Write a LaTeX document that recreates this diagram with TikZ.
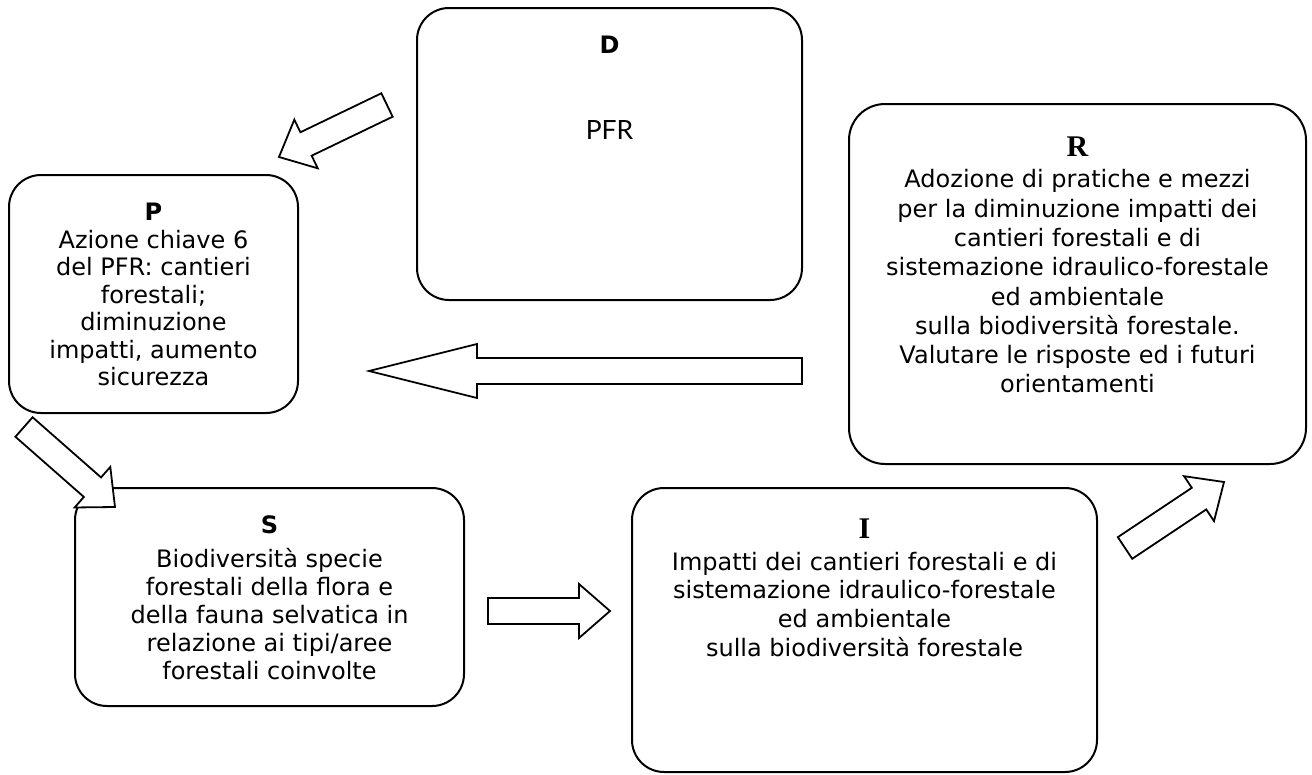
\documentclass[tikz,border=0pt]{standalone}
\usepackage{fontspec}
\setmainfont{DejaVu Sans}
\newfontfamily\titleserif{Liberation Serif}
\newfontfamily\pfrfont{Lato}
\usetikzlibrary{positioning,calc}

\newcommand{\bodysize}[1]{\fontsize{24}{#1}\selectfont}
\newcommand{\sectitle}[1]{{\titleserif\bfseries\fontsize{30}{28}\selectfont #1}}

% hollow block arrow from #1 (tail) to #2 (tip), #3 = head length
\newcommand{\blockarrow}[3]{%
  \coordinate (hb) at ($(#2)!#3!(#1)$);
  \draw[arrowbody]
    ($(#1)!13pt!90:(#2)$) -- ($(hb)!13pt!-90:(#1)$) -- ($(hb)!27pt!-90:(#1)$)
    -- (#2) -- ($(hb)!27pt!90:(#1)$) -- ($(hb)!13pt!90:(#1)$)
    -- ($(#1)!13pt!-90:(#2)$) -- cycle;}

\begin{document}
\begin{tikzpicture}[x=1pt, y=-1pt,
    box/.style={draw, line width=2pt, rounded corners=32pt, inner sep=0pt},
    boxtext/.style={align=center, inner sep=0pt},
    arrowbody/.style={draw, line width=1.8pt, fill=white}
  ]
  \useasboundingbox (0,0) rectangle (1312,774);

  % the five boxes
  \node[box, minimum width=385pt, minimum height=292pt] (D) at (609.5,154) {};
  \node[box, minimum width=289pt, minimum height=238pt] (P) at (153.5,294) {};
  \node[box, minimum width=457pt, minimum height=360pt, rounded corners=36pt] (R) at (1077.5,284) {};
  \node[box, minimum width=389pt, minimum height=218pt] (S) at (269.5,597) {};
  \node[box, minimum width=465pt, minimum height=284pt] (I) at (864.5,630) {};

  % texts
  \node[boxtext, font=\bodysize{28}, below=29pt of D.north] (Dtext) {\textbf{D}\\[58pt]{\pfrfont\fontsize{26.5}{28}\selectfont PFR}};
  \node[boxtext, font=\bodysize{27.5}, below=29pt of P.north] (Ptext) {\textbf{P}\\ Azione chiave 6\\
    del PFR: cantieri\\ forestali;\\ diminuzione\\ impatti, aumento\\ sicurezza};
  \node[boxtext, font=\bodysize{29.3}, below=34pt of R.north] (Rtext) {\sectitle{R}\\[1.7pt]
    Adozione di pratiche e mezzi\\ per la diminuzione impatti dei\\ cantieri forestali e di\\
    sistemazione idraulico-forestale\\ ed ambientale\\ sulla biodiversità forestale.\\
    Valutare le risposte ed i futuri\\ orientamenti};
  \node[boxtext, font=\bodysize{28}, below=28pt of S.north] (Stext) {\textbf{S}\\[6pt] Biodiversità specie\\
    forestali della flora e\\ della fauna selvatica in\\ relazione ai tipi/aree\\ forestali coinvolte};
  \node[boxtext, font=\bodysize{28.7}, below=32pt of I.north] (Itext) {\sectitle{I}\\[2.7pt]
    Impatti dei cantieri forestali e di\\ sistemazione idraulico-forestale\\ ed ambientale\\
    sulla biodiversità forestale};

  % arrow ends
  \coordinate (DPa) at (387,105);  \coordinate (DPb) at (279,157);
  \coordinate (PSa) at (24,427);   \coordinate (PSb) at (115,507);
  \coordinate (RPa) at (802,371);  \coordinate (RPb) at (369,371);
  \coordinate (SIa) at (488,611);  \coordinate (SIb) at (610,611);
  \coordinate (IRa) at (1125,548); \coordinate (IRb) at (1224,482);

  \blockarrow{DPa}{DPb}{30pt}
  \blockarrow{PSa}{PSb}{30pt}
  \blockarrow{RPa}{RPb}{108pt}
  \blockarrow{SIa}{SIb}{31pt}
  \blockarrow{IRa}{IRb}{30pt}
\end{tikzpicture}
\end{document}
